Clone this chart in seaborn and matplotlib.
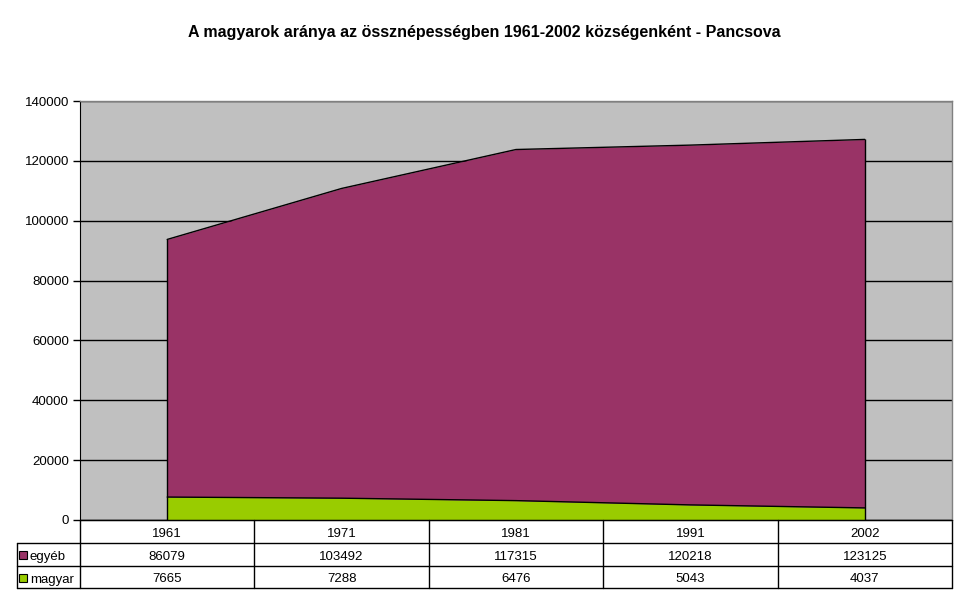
import matplotlib
matplotlib.use("Agg")
import matplotlib.pyplot as plt
import matplotlib.transforms as mtransforms
from matplotlib.patches import Rectangle
import seaborn as sns
import numpy as np
import pandas as pd

years = ["1961", "1971", "1981", "1991", "2002"]
egyeb = [86079, 103492, 117315, 120218, 123125]
magyar = [7665, 7288, 6476, 5043, 4037]
series_names = ["egyéb", "magyar"]
colors = {"egyéb": "#993366", "magyar": "#99CC00"}

sns.set_style("white")
plt.rcParams["font.family"] = ["Liberation Sans", "DejaVu Sans"]
plt.rcParams["text.color"] = "black"
plt.rcParams["ytick.color"] = "black"
plt.rcParams["axes.labelcolor"] = "black"

W, H = 968, 604
fig = plt.figure(figsize=(W / 100, H / 100), dpi=100)
left, right, top, bottom = 80, 952, 101, 520
ax = fig.add_axes([left / W, 1 - bottom / H, (right - left) / W, (bottom - top) / H])
ax.set_facecolor("#C0C0C0")

x = np.arange(len(years))
df = pd.DataFrame({"x": x, "magyar": magyar, "egyéb": egyeb})
df["total"] = df["magyar"] + df["egyéb"]

ax.stackplot(df["x"], df["magyar"], df["egyéb"],
             colors=[colors["magyar"], colors["egyéb"]], linewidth=0, zorder=2)
# outlines
sns.lineplot(data=df, x="x", y="magyar", color="black", lw=1, ax=ax, zorder=3)
sns.lineplot(data=df, x="x", y="total", color="black", lw=1, ax=ax, zorder=3)
ax.vlines([x[0], x[-1]], 0, [df["total"].iloc[0], df["total"].iloc[-1]],
          color="black", lw=1, zorder=3)

ax.set_xlim(-0.5, len(years) - 0.5)
ax.set_ylim(0, 140000)
ax.set_yticks(np.arange(0, 140001, 20000))
ax.set_yticklabels([str(v) for v in range(0, 140001, 20000)], fontsize=9.5, color="black")
ax.yaxis.grid(True, color="black", lw=1, zorder=1)
ax.set_axisbelow(True)
ax.set_xticks([])
ax.set_xlabel("")
ax.set_ylabel("")
ax.tick_params(axis="y", direction="out", length=5, width=1, color="black", pad=3, left=True)
for s in ["top", "right"]:
    ax.spines[s].set_color("#808080")
    ax.spines[s].set_linewidth(1)
ax.spines["left"].set_color("black")
ax.spines["bottom"].set_color("black")
for s in ax.spines.values():
    s.set_zorder(4)

# data table
trans = mtransforms.blended_transform_factory(ax.transData, fig.transFigure)
ftrans = fig.transFigure
def fy(py):
    return 1 - py / H
def fx(px):
    return px / W

row_y = [520, 543, 566, 588]
label_left = 17
fig.add_artist(plt.Line2D([fx(left), fx(right)], [fy(row_y[0])] * 2, color="black", lw=1))
for ry in row_y[1:]:
    fig.add_artist(plt.Line2D([fx(label_left), fx(right)], [fy(ry)] * 2, color="black", lw=1))
fig.add_artist(plt.Line2D([fx(label_left)] * 2, [fy(row_y[1]), fy(row_y[3])], color="black", lw=1))
for b in np.arange(-0.5, len(years), 1.0):
    ax.add_artist(plt.Line2D([b, b], [fy(row_y[0]), fy(row_y[3])], color="black", lw=1,
                             transform=trans, clip_on=False))

fs = 9.5
for i, yr in enumerate(years):
    ax.text(i, fy((row_y[0] + row_y[1]) / 2 + 1), yr, transform=trans, ha="center",
            va="center_baseline", fontsize=fs, clip_on=False)
    ax.text(i, fy((row_y[1] + row_y[2]) / 2 + 1), str(egyeb[i]), transform=trans, ha="center",
            va="center_baseline", fontsize=fs, clip_on=False)
    ax.text(i, fy((row_y[2] + row_y[3]) / 2 + 1), str(magyar[i]), transform=trans, ha="center",
            va="center_baseline", fontsize=fs, clip_on=False)

for r, name in enumerate(series_names):
    cy = (row_y[1 + r] + row_y[2 + r]) / 2
    fig.add_artist(Rectangle((fx(19), fy(cy + 4.5)), 8 / W, 8 / H, transform=ftrans,
                             facecolor=colors[name], edgecolor="black", lw=0.8))
    fig.text(fx(30), fy(cy + 1), name, ha="left", va="center_baseline", fontsize=fs)

fig.text(0.5, fy(32), "A magyarok aránya az össznépességben 1961-2002 községenként - Pancsova",
         ha="center", va="center", fontsize=11.5, fontweight="bold")

fig.savefig("out.png", dpi=100)
